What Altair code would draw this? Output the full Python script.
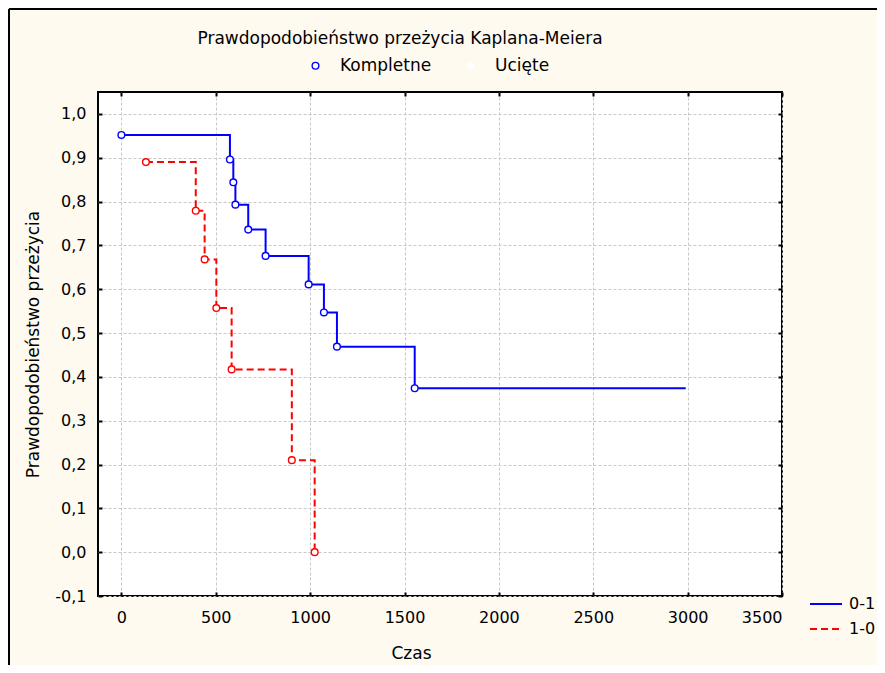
import altair as alt
import pandas as pd

# ---------------- data ----------------
series_names = ["0-1", "1-0"]
series_colors = ["#0000ff", "#ff0000"]
status_names = ["Kompletne", "Ucięte"]

blue_time = [0, 575, 593, 604, 672, 764, 992, 1073, 1142, 1554, 2990]
blue_surv = [0.952, 0.896, 0.844, 0.793, 0.736, 0.676, 0.611, 0.547, 0.469, 0.374, 0.374]
blue_status = ["Kompletne"] * 10 + ["Ucięte"]

red_time = [130, 394, 441, 503, 584, 903, 1024]
red_surv = [0.890, 0.779, 0.668, 0.557, 0.417, 0.210, 0.0]
red_status = ["Kompletne"] * 7

x_ticks = [0, 500, 1000, 1500, 2000, 2500, 3000, 3500]
y_ticks = [-0.1, 0.0, 0.1, 0.2, 0.3, 0.4, 0.5, 0.6, 0.7, 0.8, 0.9, 1.0]

df = pd.DataFrame({
    "series": ["0-1"] * len(blue_time) + ["1-0"] * len(red_time),
    "time": blue_time + red_time,
    "surv": blue_surv + red_surv,
    "status": blue_status + red_status,
})

FONT = "DejaVu Sans"
x_scale = alt.Scale(domain=[-124, 3500], nice=False, zero=False)
y_scale = alt.Scale(domain=[-0.1, 1.05], nice=False, zero=False)

x_enc = alt.X(
    "time:Q", scale=x_scale,
    axis=alt.Axis(values=x_ticks, format="d", title="Czas", orient="bottom", offset=-4, tickSize=4,
                  labelPadding=13, titleX=313, titleY=61, titleBaseline="middle"),
)
y_enc = alt.Y(
    "surv:Q", scale=y_scale,
    axis=alt.Axis(values=y_ticks, title="Prawdopodobieństwo przeżycia", orient="left", offset=-4,
                  tickSize=4, labelPadding=12,
                  labelExpr="replace(replace(format(datum.value, '.1f'), '.', ','), '\u2212', '-')",
                  titleX=-69, titleY=252, titleBaseline="middle", titleAlign="center"),
)

line_legend = alt.Legend(
    title=None, orient="none", legendX=711, legendY=495, symbolType="stroke",
    symbolSize=1024, symbolStrokeWidth=2, labelOffset=6, rowPadding=-7,
    labelFont=FONT, labelFontSize=16, labelFontWeight="normal", labelColor="black", padding=0,
)

lines = alt.Chart(df).mark_line(interpolate="step-after", strokeWidth=2).encode(
    x=x_enc,
    y=y_enc,
    color=alt.Color("series:N", scale=alt.Scale(domain=series_names, range=series_colors),
                    legend=line_legend),
    strokeDash=alt.StrokeDash("series:N",
                              scale=alt.Scale(domain=series_names, range=[[1, 0], [7, 4]]),
                              legend=line_legend),
)

status_legend = alt.Legend(
    title=None, orient="none", legendX=209, legendY=-35, direction="horizontal", columns=2,
    columnPadding=30, labelOffset=16, symbolType="circle", symbolSize=45,
    symbolStrokeWidth=1.4, symbolFillColor="transparent",
    labelFont=FONT, labelFontSize=17, labelFontWeight="normal", labelColor="black", padding=0,
)

# blue (0-1) markers: completed events as open circles, the censored end drawn without a symbol
blue_points = alt.Chart(df).transform_filter(alt.datum.series == "0-1").mark_point(
    filled=False, fill="white", shape="circle", size=45, strokeWidth=1.4, opacity=1,
).encode(
    x=alt.X("time:Q", scale=x_scale, axis=None),
    y=alt.Y("surv:Q", scale=y_scale, axis=None),
    stroke=alt.Stroke("status:N",
                      scale=alt.Scale(domain=status_names, range=[series_colors[0], "transparent"]),
                      legend=status_legend),
    fillOpacity=alt.condition(alt.datum.status == "Kompletne", alt.value(1), alt.value(0)),
)

# red (1-0) markers
red_points = alt.Chart(df).transform_filter(alt.datum.series == "1-0").mark_point(
    filled=False, fill="white", stroke=series_colors[1], color=series_colors[1],
    shape="circle", size=45, strokeWidth=1.4, opacity=1,
).encode(
    x=alt.X("time:Q", scale=x_scale, axis=None),
    y=alt.Y("surv:Q", scale=y_scale, axis=None),
)

# inward tick marks on the top and right edges of the frame
opp_ticks = alt.Chart(df).mark_point(opacity=0).encode(
    x=alt.X("time:Q", scale=x_scale,
            axis=alt.Axis(values=x_ticks, orient="top", offset=-4, tickSize=4, labels=False,
                          grid=False, title=None)),
    y=alt.Y("surv:Q", scale=y_scale,
            axis=alt.Axis(values=y_ticks, orient="right", offset=-4, tickSize=4, labels=False,
                          grid=False, title=None)),
)

frame_df = pd.DataFrame({"k": [0]})
left_border = alt.Chart(frame_df).mark_rule(color="black", strokeWidth=2).encode(
    x=alt.value(-89), y=alt.value(-83), y2=alt.value(573))
top_border = alt.Chart(frame_df).mark_rule(color="black", strokeWidth=2).encode(
    x=alt.value(-89), x2=alt.value(779), y=alt.value(-83))

chart = alt.layer(lines, blue_points, red_points, opp_ticks, left_border, top_border).resolve_axis(
    x="independent", y="independent"
).properties(
    width=684,
    height=504,
    padding={"left": 90, "top": 84, "right": 95, "bottom": 69},
    autosize=alt.AutoSizeParams(type="none"),
    background="#FFFAF0",
    title=alt.TitleParams(
        "Prawdopodobieństwo przeżycia Kaplana-Meiera",
        font=FONT, fontSize=17, fontWeight="normal", color="black",
        anchor="middle", frame="group", baseline="bottom", offset=0, dx=-40, dy=57,
    ),
).configure_view(
    fill="white", stroke="black", strokeWidth=2
).configure_axis(
    grid=True, gridColor="#c8c8c8", gridDash=[3, 2], gridWidth=1,
    domain=False, tickColor="black", tickWidth=2,
    labelFont=FONT, labelFontSize=16, labelColor="black",
    titleFont=FONT, titleFontSize=17, titleFontWeight="normal", titleColor="black",
)

chart.save("out.html", embed_options={"renderer": "svg", "actions": False})
